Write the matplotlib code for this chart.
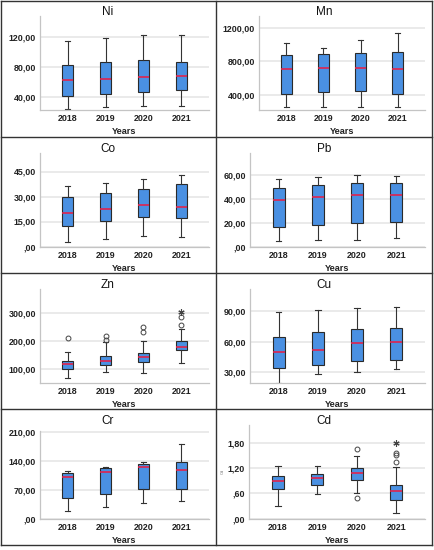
import matplotlib
matplotlib.use("Agg")
import matplotlib.pyplot as plt
from matplotlib.lines import Line2D
from matplotlib.ticker import FuncFormatter

plt.rcParams['font.family'] = ['Liberation Sans', 'DejaVu Sans']

W, H = 435, 550
years = ["2018", "2019", "2020", "2021"]

# box stats per year: (whisker low, Q1, median, Q3, whisker high)
ni = [(24, 41.3, 61.8, 82.7, 114), (25.8, 43.6, 64, 85.8, 118.7),
      (27.1, 45.8, 66.2, 88.9, 122.7), (27.1, 48.4, 67.1, 86.2, 122.2)]
mn = [(251, 404, 706, 878, 1027), (255, 428, 726, 894, 967),
      (251, 440, 718, 907, 1059), (251, 404, 710, 919, 1144)]
co = [(2.9, 12.6, 20.2, 29.9, 36.5), (4.7, 15.1, 22.5, 32.1, 38.4),
      (6.5, 17.6, 24.7, 34.5, 40.4), (5.9, 17.2, 23.5, 37.8, 43.0)]
pb = [(4.7, 16.7, 39.2, 49.4, 56.4), (5.3, 18.3, 41.4, 51.4, 58.0),
      (5.8, 20.0, 43.3, 53.6, 60.3), (6.9, 20.3, 43.0, 53.6, 59.4)]
zn = [(69, 101, 117, 130, 162), (89, 113, 130, 147, 198),
      (84, 125, 142, 156, 199), (122, 167, 179, 202, 245)]
cu = [(19.8, 34.0, 50.3, 64.8, 89.0), (28.7, 37.5, 52.0, 69.7, 91.3),
      (30.7, 41.2, 58.5, 73.0, 93.6), (33.0, 42.1, 60.2, 73.3, 94.6)]
cr = [(17.6, 49.6, 101.5, 111, 115), (28, 60, 112.6, 124, 126),
      (38.4, 71, 124.6, 134, 137), (43, 72, 118, 138, 181)]
cd = [(0.306, 0.695, 0.894, 1.01, 1.25), (0.576, 0.807, 0.966, 1.07, 1.25),
      (0.60, 0.926, 1.10, 1.20, 1.506), (0.123, 0.449, 0.648, 0.791, 1.244)]

# outliers (circles) and extremes (stars)
zn_out = [[211], [219, 205], [250, 232], [287, 258]]
zn_far = [[], [], [], [306]]
cd_out = [[], [], [1.657, 0.497], [1.56, 1.52, 1.363]]
cd_far = [[], [], [], [1.81]]

# name, stats, outliers, extremes, yticks, ylim, col, row, left px, top px
panels = [
    ("Ni", ni, None, None, [40, 80, 120], (22.2, 147.6), 0, 0, 40, 16),
    ("Mn", mn, None, None, [400, 800, 1200], (215, 1348), 1, 0, 43, 16),
    ("Co", co, None, None, [0, 15, 30, 45], (-0.3, 56.1), 0, 1, 40, 16),
    ("Pb", pb, None, None, [0, 20, 40, 60], (-0.3, 78.3), 1, 1, 34, 16),
    ("Zn", zn, zn_out, zn_far, [100, 200, 300], (49.6, 387), 0, 2, 40, 16),
    ("Cu", cu, None, None, [30, 60, 90], (19.4, 112), 1, 2, 34, 16),
    ("Cr", cr, None, None, [0, 70, 140, 210], (-0.8, 213), 0, 3, 40, 22),
    ("Cd", cd, cd_out, cd_far, [0, 0.6, 1.2, 1.8], (-0.01, 2.236), 1, 3, 33, 16),
]

col_x = [0, 216]
row_y = [0, 137, 273, 409]

box_fill = '#4a90e2'
edge = '#2a2a2a'


def fmt(v, pos):
    s = f"{v:.2f}".replace('.', ',')
    if s.startswith('0,'):
        s = s[1:]
    return s


def px_rect(x, y, w, h):
    return [x / W, 1 - (y + h) / H, w / W, h / H]


fig = plt.figure(figsize=(W / 100, H / 100), dpi=100)

for name, stats, outl, far, ticks, ylim, c, r, lx, ty in panels:
    cx, cy = col_x[c], row_y[r]
    ax = fig.add_axes(px_rect(cx + lx, cy + ty, 209 - lx, 110 - ty))
    bstats = []
    for i, (lo, q1, med, q3, hi) in enumerate(stats):
        fl = outl[i] if outl else []
        bstats.append(dict(whislo=lo, q1=q1, med=med, q3=q3, whishi=hi, fliers=fl))
    pos = [1, 2, 3, 4]
    ax.bxp(bstats, positions=pos, widths=0.3, capwidths=0.14, patch_artist=True,
           manage_ticks=False,
           boxprops=dict(facecolor=box_fill, edgecolor=edge, linewidth=0.8),
           medianprops=dict(color='#e0234e', linewidth=1.2),
           whiskerprops=dict(color='#333333', linewidth=0.8),
           capprops=dict(color='#333333', linewidth=0.8),
           flierprops=dict(marker='o', markerfacecolor='none', markeredgecolor='#444444',
                           markersize=3.5, markeredgewidth=0.7))
    if far:
        for p, vals in zip(pos, far):
            if vals:
                ax.plot([p] * len(vals), vals, linestyle='none', marker=(6, 2, 0),
                        color='#444444', markersize=4.5, markeredgewidth=0.8)
    ax.set_xlim(0.27, 4.73)
    ax.set_ylim(*ylim)
    ax.set_yticks(ticks)
    ax.yaxis.set_major_formatter(FuncFormatter(fmt))
    ax.set_xticks(pos)
    ax.set_xticklabels(years)
    ax.grid(axis='y', color='#e4e4e4', linewidth=1.1)
    ax.set_axisbelow(True)
    for s in ['top', 'right']:
        ax.spines[s].set_visible(False)
    for s in ['left', 'bottom']:
        ax.spines[s].set_color('#c4c4c4')
        ax.spines[s].set_linewidth(0.9)
    ax.tick_params(length=0, labelsize=6.4, colors='#222222', pad=3)
    for lab in ax.get_xticklabels() + ax.get_yticklabels():
        lab.set_fontweight('bold')
    ax.set_xlabel("Years", fontsize=6.6, fontweight='bold', color='#222222', labelpad=2.5)
    fig.text((cx + 108) / W, 1 - (cy + 12) / H, name, fontsize=8.5,
             ha='center', va='center', color='#111111')

# tiny axis label on Cd panel
fig.text(223 / W, 1 - 471 / H, "Cd", fontsize=3, rotation=90, color='#777777',
         ha='center', va='center')

# panel frame lines
lc = '#333333'
lw = 1.0
fig.add_artist(Line2D([1 / W, 1 / W], [1 - 1 / H, 1 - 545 / H], color=lc, lw=lw))
fig.add_artist(Line2D([432 / W, 432 / W], [1 - 1 / H, 1 - 545 / H], color=lc, lw=lw))
fig.add_artist(Line2D([216 / W, 216 / W], [1 - 1 / H, 1 - 545 / H], color=lc, lw=lw))
for yy in [1, 137, 273, 409, 545]:
    fig.add_artist(Line2D([1 / W, 432 / W], [1 - yy / H, 1 - yy / H], color=lc, lw=lw))

fig.savefig("out.png", dpi=100)
